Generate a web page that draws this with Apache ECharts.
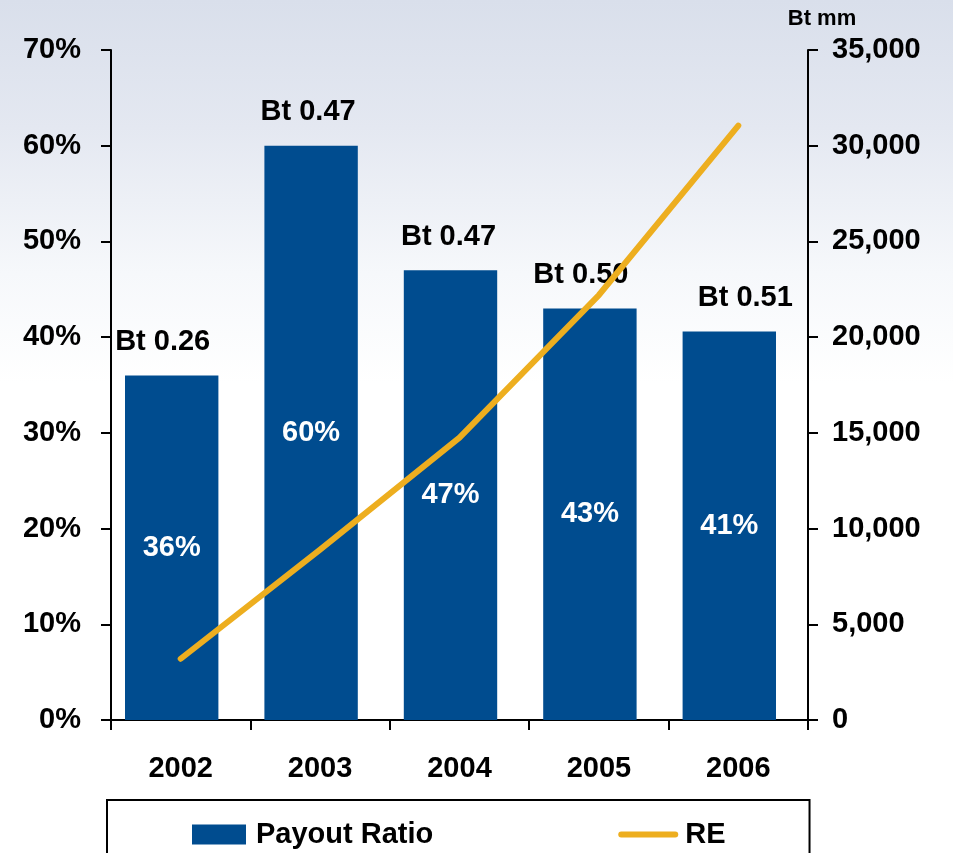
<!DOCTYPE html>
<html>
<head>
<meta charset="utf-8">
<script src="https://cdn.jsdelivr.net/npm/echarts@6/dist/echarts.min.js"></script>
<style>
html,body{margin:0;padding:0;background:#fff;}
#chart{width:953px;height:853px;}
</style>
</head>
<body>
<div id="chart"></div>
<script>
// ---- data ----
const categories = ['2002', '2003', '2004', '2005', '2006'];
const payoutRatio = [36, 60, 47, 43, 40.6];          // %
const dividendPerShare = ['Bt 0.26', 'Bt 0.47', 'Bt 0.47', 'Bt 0.50', 'Bt 0.51'];
const retainedEarnings = [3200, 8900, 14750, 22200, 31050]; // Bt mm
const leftTicks = { min: 0, max: 70, interval: 10 };
const rightTicks = { min: 0, max: 35000, interval: 5000 };

// ---- styling ----
const FONT = 'Liberation Sans, Arial, sans-serif';
const BAR_COLOR = '#004C8F';
const LINE_COLOR = '#EDAE1F';
const topLabelShift = [-9, -3, -2, -9, 16];

const chart = echarts.init(document.getElementById('chart'), null, { renderer: 'canvas' });

const boldText = (size, color) => ({ fontFamily: FONT, fontWeight: 'bold', fontSize: size, color: color || '#000' });
const axisBlack = { lineStyle: { color: '#000', width: 2 } };

const option = {
  animation: false,
  graphic: [{
    type: 'rect', z: -100, silent: true,
    shape: { x: 0, y: 0, width: 953, height: 853 },
    style: {
      fill: {
        type: 'linear', x: 0, y: 0, x2: 0, y2: 1,
        colorStops: [
          { offset: 0, color: '#d9dfeb' },
          { offset: 0.15, color: '#e4e8f1' },
          { offset: 0.32, color: '#f6f8fb' },
          { offset: 0.45, color: '#ffffff' },
          { offset: 1, color: '#ffffff' }
        ]
      }
    }
  }],
  grid: [
    { left: 111, right: 145, top: 50, bottom: 133, containLabel: false },
    // bars sit slightly left of the category centres in the original
    { left: 102, right: 154, top: 50, bottom: 133, containLabel: false }
  ],
  legend: {
    left: 107, top: 800,
    orient: 'horizontal',
    borderColor: '#000', borderWidth: 2,
    padding: [20, 84, 40, 85],
    itemGap: 185,
    itemWidth: 54, itemHeight: 20,
    textStyle: Object.assign(boldText(29), { padding: [0, 0, 0, 5] }),
    data: [
      { name: 'Payout Ratio', icon: 'rect' },
      { name: 'RE', itemStyle: { color: 'rgba(0,0,0,0)', borderWidth: 0 },
        lineStyle: { color: LINE_COLOR, width: 6, cap: 'round' } }
    ]
  },
  xAxis: [{
    type: 'category',
    gridIndex: 0,
    data: categories,
    axisLine: axisBlack,
    axisTick: Object.assign({ show: true, length: 10 }, axisBlack),
    axisLabel: Object.assign(boldText(29), { margin: 34 })
  }, {
    type: 'category',
    gridIndex: 1,
    data: categories,
    show: false
  }],
  yAxis: [{
    type: 'value',
    gridIndex: 0,
    min: leftTicks.min, max: leftTicks.max, interval: leftTicks.interval,
    axisLine: Object.assign({ show: true }, axisBlack),
    axisTick: Object.assign({ show: true, length: 10 }, axisBlack),
    splitLine: { show: false },
    axisLabel: Object.assign(boldText(29), { margin: 30, formatter: '{value}%' })
  }, {
    type: 'value',
    gridIndex: 0,
    position: 'right',
    min: rightTicks.min, max: rightTicks.max, interval: rightTicks.interval,
    name: 'Bt mm',
    nameLocation: 'end',
    nameGap: 20,
    nameTextStyle: Object.assign(boldText(22), { align: 'center', padding: [0, 0, 0, 28] }),
    axisLine: Object.assign({ show: true }, axisBlack),
    axisTick: Object.assign({ show: true, length: 10 }, axisBlack),
    splitLine: { show: false },
    axisLabel: Object.assign(boldText(29), {
      margin: 24,
      formatter: v => v.toLocaleString('en-US')
    })
  }, {
    type: 'value',
    gridIndex: 1,
    min: leftTicks.min, max: leftTicks.max, interval: leftTicks.interval,
    show: false
  }],
  series: [{
    name: 'Payout Ratio',
    type: 'bar',
    xAxisIndex: 1,
    yAxisIndex: 2,
    barCategoryGap: '33%',
    barGap: '-100%',
    itemStyle: { color: BAR_COLOR },
    label: Object.assign(boldText(29, '#fff'), {
      show: true, position: 'inside',
      formatter: p => Math.round(p.value) + '%'
    }),
    data: payoutRatio
  }, {
    name: 'DPS',
    type: 'bar',
    xAxisIndex: 1,
    yAxisIndex: 2,
    barCategoryGap: '33%',
    barGap: '-100%',
    silent: true,
    itemStyle: { color: 'rgba(0,0,0,0)' },
    label: Object.assign(boldText(29), {
      show: true, position: 'top', distance: 19,
      formatter: p => dividendPerShare[p.dataIndex]
    }),
    data: payoutRatio.map((v, i) => ({ value: v, label: { offset: [topLabelShift[i], 0] } }))
  }, {
    name: 'RE',
    type: 'line',
    xAxisIndex: 0,
    yAxisIndex: 1,
    symbol: 'none',
    smooth: false,
    zlevel: 1,
    lineStyle: { color: LINE_COLOR, width: 6, cap: 'round', join: 'round' },
    itemStyle: { color: LINE_COLOR },
    data: retainedEarnings
  }]
};

chart.setOption(option);
</script>
</body>
</html>
